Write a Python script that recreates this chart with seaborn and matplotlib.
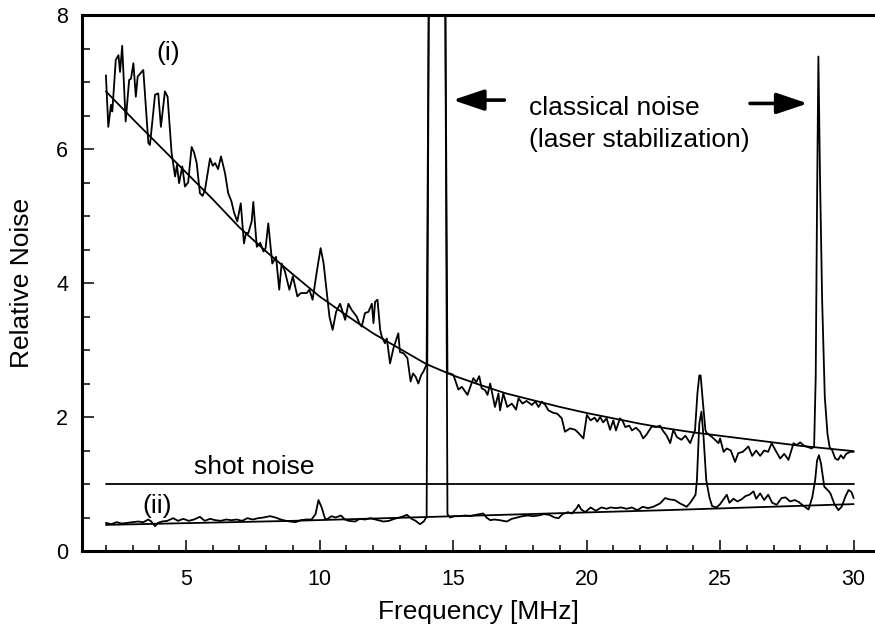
import numpy as np
import pandas as pd
import matplotlib
matplotlib.use('Agg')
import matplotlib.pyplot as plt
import seaborn as sns

sns.set_theme(style='ticks')
plt.rcParams['font.family'] = ['Liberation Sans', 'DejaVu Sans']
plt.rcParams['axes.linewidth'] = 2.2
for k in ('text.color', 'axes.labelcolor', 'xtick.color', 'ytick.color', 'axes.edgecolor'):
    plt.rcParams[k] = 'black'

# ---- data ----
# measured noise spectrum (i), relative to shot noise
freq_i = [2.00, 2.09, 2.19, 2.24, 2.37, 2.47, 2.53, 2.61, 2.74, 2.87, 2.94, 3.03, 3.12, 3.19,
          3.40, 3.59, 3.65, 3.84, 3.96, 4.06, 4.21, 4.31, 4.46, 4.59, 4.66, 4.74, 4.86, 4.96,
          5.08, 5.21, 5.30, 5.40, 5.52, 5.62, 5.71, 5.90, 6.00, 6.09, 6.20, 6.31, 6.46, 6.58,
          6.70, 6.80, 6.92, 7.05, 7.17, 7.25, 7.33, 7.46, 7.52, 7.65, 7.78, 7.90, 7.98, 8.08,
          8.23, 8.37, 8.49, 8.58, 8.70, 8.87, 9.00, 9.17, 9.30, 9.52, 9.62, 9.74, 9.89, 10.04,
          10.15, 10.29, 10.37, 10.49, 10.62, 10.77, 10.96, 11.08, 11.20, 11.39, 11.49, 11.58,
          11.70, 11.83, 11.96, 12.02, 12.08, 12.17, 12.27, 12.33, 12.45, 12.52, 12.64, 12.77,
          12.95, 13.01, 13.15, 13.29, 13.41, 13.50, 13.60, 13.70, 13.80, 13.89, 14.01, 14.10,
          14.20, 14.60, 14.70, 14.79, 14.89, 15.01, 15.20, 15.33, 15.45, 15.54, 15.76, 15.87,
          15.98, 16.07, 16.20, 16.29, 16.39, 16.57, 16.70, 16.76, 16.88, 17.03, 17.20, 17.36,
          17.45, 17.60, 17.75, 17.95, 18.08, 18.20, 18.32, 18.45, 18.57, 18.76, 18.90, 19.07,
          19.19, 19.38, 19.57, 19.70, 19.88, 20.01, 20.15, 20.30, 20.40, 20.51, 20.62, 20.75,
          20.88, 21.00, 21.10, 21.25, 21.35, 21.45, 21.60, 21.70, 21.85, 22.00, 22.12, 22.25,
          22.44, 22.60, 22.75, 22.85, 23.00, 23.13, 23.25, 23.38, 23.55, 23.70, 23.88, 24.00,
          24.06, 24.15, 24.22, 24.27, 24.36, 24.45, 24.50, 24.70, 24.94, 25.00, 25.13, 25.25,
          25.40, 25.56, 25.68, 25.85, 26.06, 26.20, 26.35, 26.50, 26.65, 26.80, 26.93, 27.05,
          27.25, 27.40, 27.56, 27.75, 27.85, 28.00, 28.15, 28.30, 28.43, 28.52, 28.58, 28.63,
          28.68, 28.74, 28.82, 28.92, 29.02, 29.10, 29.20, 29.31, 29.42, 29.52, 29.62, 29.72,
          29.87, 30.00]
noise_i = [7.10, 6.33, 6.66, 6.56, 7.33, 7.40, 7.15, 7.54, 6.41, 7.03, 7.05, 7.28, 6.78, 7.08,
           7.18, 6.09, 6.06, 6.81, 6.83, 6.33, 6.86, 6.78, 5.94, 5.59, 5.76, 5.49, 5.74, 5.44,
           5.50, 6.03, 5.95, 5.79, 5.34, 5.30, 5.39, 5.86, 5.75, 5.79, 5.70, 5.89, 5.64, 5.34,
           5.22, 5.05, 4.92, 5.19, 4.59, 4.75, 4.74, 4.92, 5.21, 4.54, 4.60, 4.47, 4.52, 4.89,
           4.29, 4.39, 3.90, 4.29, 4.18, 3.90, 4.10, 3.80, 3.85, 3.85, 3.90, 3.75, 4.15, 4.52,
           4.30, 3.80, 3.50, 3.30, 3.57, 3.69, 3.45, 3.69, 3.60, 3.50, 3.40, 3.35,
           3.55, 3.57, 3.69, 3.40, 3.72, 3.75, 3.30, 3.20, 3.10, 3.17, 2.80, 3.03,
           3.25, 2.97, 2.95, 2.88, 2.53, 2.65, 2.60, 2.50, 2.62, 2.68, 2.78, 9.0,
           30.0, 30.0, 9.0, 2.65, 2.65, 2.63, 2.41, 2.45, 2.38, 2.33, 2.58, 2.52,
           2.61, 2.43, 2.40, 2.33, 2.50, 2.15, 2.35, 2.10, 2.35, 2.15, 2.20, 2.11,
           2.28, 2.20, 2.24, 2.18, 2.23, 2.15, 2.23, 2.18, 2.10, 2.06, 2.05, 1.98,
           1.78, 1.83, 1.81, 1.76, 1.68, 2.03, 1.95, 1.99, 1.93, 2.00, 1.92, 1.98,
           1.81, 1.95, 1.80, 1.98, 1.94, 1.85, 1.87, 1.80, 1.84, 1.78, 1.68, 1.74,
           1.86, 1.85, 1.87, 1.80, 1.72, 1.61, 1.81, 1.70, 1.66, 1.72, 1.61, 1.74,
           1.80, 2.35, 2.62, 2.62, 2.20, 1.80, 1.76, 1.70, 1.61, 1.68, 1.48, 1.53,
           1.50, 1.33, 1.46, 1.48, 1.56, 1.42, 1.50, 1.42, 1.50, 1.48, 1.61, 1.52,
           1.38, 1.45, 1.36, 1.61, 1.58, 1.62, 1.57, 1.55, 1.53, 1.56, 2.60, 5.20,
           7.38, 5.60, 3.75, 2.30, 1.75, 1.55, 1.50, 1.38, 1.36, 1.43, 1.38, 1.45,
           1.48, 1.48]

# measured noise spectrum (ii)
freq_ii = [2.00, 2.20, 2.40, 2.60, 2.80, 3.00, 3.20, 3.40, 3.59, 3.70, 3.84, 3.95, 4.10, 4.30,
           4.52, 4.70, 4.90, 5.10, 5.30, 5.52, 5.70, 5.90, 6.10, 6.30, 6.50, 6.70, 6.90, 7.10,
           7.30, 7.50, 7.70, 7.90, 8.15, 8.35, 8.55, 8.75, 8.90, 9.10, 9.30, 9.50, 9.70, 9.85,
           9.96, 10.08, 10.20, 10.27, 10.45, 10.60, 10.80, 10.95, 11.10, 11.33, 11.50, 11.70,
           11.90, 12.10, 12.39, 12.60, 12.80, 13.00, 13.15, 13.27, 13.45, 13.60, 13.76, 13.90,
           14.01, 14.10, 14.20, 14.60, 14.70, 14.79, 14.89, 15.05, 15.26, 15.45, 15.65, 15.85,
           16.00, 16.13, 16.25, 16.39, 16.55, 16.75, 17.01, 17.20, 17.40, 17.60, 17.80, 18.00,
           18.20, 18.40, 18.60, 18.80, 18.95, 19.10, 19.30, 19.45, 19.63, 19.70, 19.80, 19.95,
           20.15, 20.35, 20.55, 20.75, 20.90, 21.10, 21.30, 21.50, 21.70, 21.90, 22.10, 22.30,
           22.50, 22.75, 22.94, 23.10, 23.30, 23.50, 23.75, 23.88, 24.00, 24.08, 24.13, 24.22,
           24.30, 24.38, 24.48, 24.60, 24.70, 24.87, 25.00, 25.25, 25.35, 25.50, 25.65, 25.80,
           25.95, 26.10, 26.25, 26.35, 26.50, 26.65, 26.80, 26.95, 27.12, 27.30, 27.45, 27.62,
           27.80, 27.95, 28.10, 28.31, 28.45, 28.56, 28.63, 28.70, 28.78, 28.90, 29.05, 29.13,
           29.28, 29.43, 29.55, 29.70, 29.81, 29.92, 30.00]
noise_ii = [0.42, 0.40, 0.43, 0.41, 0.42, 0.43, 0.44, 0.43, 0.47, 0.44, 0.37, 0.42, 0.44, 0.45,
            0.49, 0.45, 0.48, 0.45, 0.47, 0.51, 0.45, 0.48, 0.46, 0.45, 0.47, 0.46, 0.47, 0.45,
            0.49, 0.47, 0.49, 0.50, 0.52, 0.50, 0.47, 0.45, 0.44, 0.43, 0.46, 0.47, 0.47, 0.55,
            0.76, 0.65, 0.49, 0.47, 0.52, 0.50, 0.53, 0.47, 0.45, 0.44, 0.48, 0.47,
            0.49, 0.47, 0.44, 0.45, 0.48, 0.50, 0.52, 0.54, 0.48, 0.45, 0.40, 0.44,
            0.51, 9.0, 30.0, 30.0, 9.0, 0.55, 0.50, 0.52, 0.52, 0.53, 0.52, 0.54,
            0.55, 0.56, 0.50, 0.46, 0.47, 0.46, 0.44, 0.48, 0.50, 0.52, 0.53, 0.52,
            0.53, 0.55, 0.54, 0.50, 0.49, 0.55, 0.58, 0.56, 0.64, 0.69, 0.62, 0.58,
            0.65, 0.60, 0.65, 0.63, 0.65, 0.64, 0.65, 0.63, 0.65, 0.61, 0.66, 0.64,
            0.66, 0.71, 0.79, 0.77, 0.76, 0.71, 0.66, 0.72, 0.79, 0.84, 1.05, 1.90,
            2.08, 1.70, 1.06, 0.80, 0.67, 0.65, 0.70, 0.84, 0.72, 0.78, 0.74, 0.77,
            0.82, 0.84, 0.89, 0.78, 0.86, 0.76, 0.84, 0.72, 0.69, 0.79, 0.80, 0.74,
            0.76, 0.73, 0.68, 0.62, 0.80, 1.06, 1.35, 1.43, 1.30, 0.96, 0.90, 0.86,
            0.70, 0.61, 0.66, 0.82, 0.91, 0.88, 0.79]

# smooth fits through both spectra
fit_i_freq = list(range(2, 31))
fit_i = [6.86, 6.45, 6.05, 5.65, 5.25, 4.83, 4.47, 4.13, 3.80, 3.52, 3.25, 3.02, 2.79, 2.62,
         2.48, 2.35, 2.25, 2.15, 2.06, 1.98, 1.90, 1.83, 1.77, 1.72, 1.67, 1.62, 1.57, 1.53, 1.49]
fit_ii_freq = [2, 9, 16, 23, 30]
fit_ii = [0.39, 0.45, 0.53, 0.61, 0.70]

shot_freq = [2, 30]
shot_level = [1.0, 1.0]

df_i = pd.DataFrame({'freq': freq_i, 'noise': noise_i})
df_ii = pd.DataFrame({'freq': freq_ii, 'noise': noise_ii})
df_fit_i = pd.DataFrame({'freq': fit_i_freq, 'noise': fit_i})
df_fit_ii = pd.DataFrame({'freq': fit_ii_freq, 'noise': fit_ii})
df_shot = pd.DataFrame({'freq': shot_freq, 'noise': shot_level})

fig = plt.figure(figsize=(8.75, 6.28), dpi=100)
ax = fig.add_axes([82 / 875, 1 - 551 / 628, (875 - 82) / 875, (551 - 15) / 628])

line_kw = dict(color='black', linewidth=1.3, estimator=None, sort=False, ax=ax)
for d in (df_i, df_ii, df_fit_i, df_fit_ii, df_shot):
    sns.lineplot(data=d, x='freq', y='noise', **line_kw)

ax.set_xlim(1.105, 30.8)
ax.set_ylim(0, 8)
ax.set_xticks([5, 10, 15, 20, 25, 30])
ax.set_xticks(np.arange(2, 31, 1), minor=True)
ax.set_yticks([0, 2, 4, 6, 8])
ax.set_yticks(np.arange(0, 8.01, 0.5), minor=True)
ax.tick_params(axis='both', which='both', direction='in', colors='black', width=1.1,
               labelsize=15.5)
ax.tick_params(axis='x', which='major', length=8, pad=13)
ax.tick_params(axis='x', which='minor', length=4.5)
ax.tick_params(axis='y', which='major', length=8.5, pad=10)
ax.tick_params(axis='y', which='minor', length=6)
ax.spines['right'].set_visible(False)

ax.set_xlabel('Frequency [MHz]', fontsize=19)
ax.set_ylabel('Relative Noise', fontsize=19)
ax.xaxis.set_label_coords(0.5, -0.091)
ax.yaxis.set_label_coords(-0.061, 0.5)

txt = dict(fontsize=19, color='black')
ax.text(4.33, 7.44, '(i)', ha='center', va='center', **txt)
ax.text(3.91, 0.67, '(ii)', ha='center', va='center', **txt)
ax.text(7.55, 1.145, 'shot noise', ha='center', va='baseline', **txt)
ax.text(17.85, 6.51, 'classical noise', ha='left', va='baseline', **txt)
ax.text(17.85, 6.03, '(laser stabilization)', ha='left', va='baseline', **txt)

arrow = dict(arrowstyle='-|>,head_length=0.95,head_width=0.32', color='black',
             lw=2.6, mutation_scale=20, shrinkA=0, shrinkB=0)
ax.annotate('', xy=(14.99, 6.73), xytext=(16.92, 6.73), arrowprops=arrow)
ax.annotate('', xy=(28.28, 6.68), xytext=(26.12, 6.68), arrowprops=arrow)

fig.savefig('out.png', dpi=100)
